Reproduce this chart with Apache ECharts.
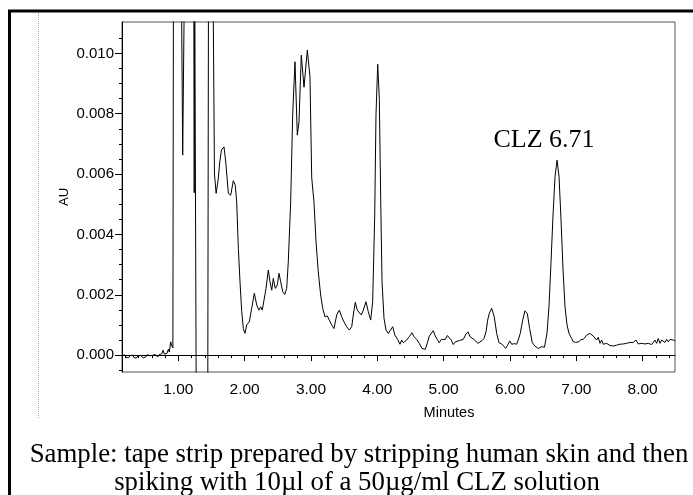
<!DOCTYPE html>
<html>
<head>
<meta charset="utf-8">
<title>CLZ tape strip chromatogram</title>
<script src="https://cdn.jsdelivr.net/npm/echarts@6/dist/echarts.min.js"></script>
<style>
  html, body { margin: 0; padding: 0; background: #fff; }
  #chart { width: 693px; height: 495px; }
</style>
</head>
<body>
<div id="chart"></div>
<script>
// Retention time (minutes) of the clozapine peak and its apex absorbance
const clzTime = 6.71;
const clzHeight = 0.00646;

// Detector trace: [minutes, AU]; values above/below the plot window are clipped
const trace = [
  // baseline before the solvent front
  [0.151, -0.00002], [0.17, -0.00006], [0.19, 0.00001], [0.21, -0.00007], [0.23, -0.00003],
  [0.25, -0.00009], [0.27, -0.00002], [0.29, -0.00006], [0.31, 0.0], [0.33, -0.00008],
  [0.35, -0.00004], [0.37, -0.0001], [0.39, -0.00003], [0.41, -0.00007], [0.43, -0.00001],
  [0.45, -0.00006], [0.47, -0.00009], [0.49, -0.00003], [0.51, -0.00006], [0.53, 0.00001],
  [0.55, -0.00005], [0.57, -0.00002], [0.59, -0.00007], [0.61, -0.00001], [0.63, -0.00004],
  [0.65, 0.00002], [0.67, -0.00003], [0.69, -0.00006], [0.71, 0.00001], [0.73, -0.00002],
  [0.75, 0.00004], [0.77, 0.00016], [0.79, 0.00003], [0.81, -0.00001], [0.83, 0.00006],
  [0.85, 0.0002], [0.865, 0.0001], [0.885, 0.00044], [0.9, 0.00032], [0.918, 0.00024],
  // solvent front (off scale)
  [0.932, 0.02], [0.98, 0.03], [1.02, 0.025], [1.045, 0.015], [1.051, 0.011], [1.066, 0.00663],
  [1.086, 0.011], [1.095, 0.02], [1.16, 0.03], [1.225, 0.02], [1.233, 0.0125], [1.240, 0.00538],
  [1.247, 0.0125], [1.26, 0.0125], [1.27, -0.0015], [1.30, -0.008], [1.40, -0.008],
  [1.444, -0.0015], [1.455, 0.0125], [1.49, 0.02], [1.522, 0.0125], [1.528, 0.011],
  // early eluting matrix peaks
  [1.545, 0.006], [1.57, 0.00536], [1.585, 0.0054], [1.60, 0.0058], [1.625, 0.0064],
  [1.65, 0.0068], [1.689, 0.0069], [1.715, 0.0064], [1.754, 0.00536], [1.79, 0.0053],
  [1.829, 0.00578], [1.859, 0.00563], [1.88, 0.00508], [1.905, 0.00354], [1.93, 0.00243],
  [1.956, 0.00144], [1.98, 0.00088], [2.005, 0.00072], [2.031, 0.001], [2.07, 0.0011],
  [2.106, 0.00155], [2.146, 0.00205], [2.182, 0.00166], [2.216, 0.00149], [2.242, 0.0016],
  [2.266, 0.00149], [2.292, 0.00155], [2.322, 0.00221], [2.357, 0.00282], [2.382, 0.00243],
  [2.408, 0.00215], [2.432, 0.00254], [2.462, 0.00221], [2.492, 0.00232], [2.518, 0.00271],
  [2.543, 0.00243], [2.574, 0.0021], [2.604, 0.00201], [2.634, 0.00221], [2.658, 0.00309],
  [2.694, 0.00508], [2.724, 0.00795], [2.759, 0.00972], [2.794, 0.00729], [2.819, 0.00773],
  [2.854, 0.00994], [2.895, 0.00888], [2.945, 0.01011], [2.985, 0.00922], [3.011, 0.00588],
  [3.045, 0.00508], [3.076, 0.00376], [3.11, 0.00276], [3.146, 0.00199], [3.177, 0.00155],
  [3.211, 0.00127], [3.246, 0.0013], [3.276, 0.00116], [3.312, 0.001], [3.347, 0.00088],
  [3.388, 0.00133], [3.427, 0.00149], [3.463, 0.00127], [3.498, 0.0011], [3.538, 0.00094],
  [3.578, 0.00083], [3.614, 0.00094], [3.638, 0.00133], [3.668, 0.00175], [3.698, 0.00149],
  [3.724, 0.00155], [3.759, 0.00133], [3.789, 0.00149], [3.829, 0.00177], [3.864, 0.00144],
  [3.9, 0.00116], [3.93, 0.00177], [3.961, 0.00464], [3.98, 0.00795], [4.006, 0.00964],
  [4.03, 0.00851], [4.051, 0.0052], [4.071, 0.00243], [4.101, 0.00122], [4.131, 0.00083],
  [4.166, 0.00072], [4.196, 0.00077], [4.232, 0.00094], [4.266, 0.00066], [4.307, 0.00052],
  [4.342, 0.00036], [4.367, 0.0005], [4.392, 0.00041], [4.443, 0.0005], [4.482, 0.00061],
  [4.523, 0.00074], [4.553, 0.00061], [4.594, 0.00052], [4.633, 0.00039], [4.674, 0.00022],
  [4.704, 0.00028], [4.723, 0.00019], [4.753, 0.00039], [4.784, 0.00063], [4.814, 0.00066],
  [4.844, 0.00081], [4.874, 0.00063], [4.904, 0.00052], [4.934, 0.00041], [4.965, 0.00052],
  [4.995, 0.0005], [5.025, 0.00052], [5.055, 0.00065], [5.085, 0.00059], [5.115, 0.0005],
  [5.145, 0.00035], [5.176, 0.00044], [5.206, 0.00041], [5.236, 0.00048], [5.266, 0.00046],
  [5.296, 0.00052], [5.337, 0.0007], [5.367, 0.00077], [5.397, 0.00061], [5.427, 0.00059],
  [5.457, 0.00052], [5.487, 0.00048], [5.518, 0.00039], [5.548, 0.00044], [5.578, 0.00048],
  [5.608, 0.00055], [5.639, 0.00077], [5.664, 0.00116], [5.688, 0.00138], [5.724, 0.00155],
  [5.763, 0.00127], [5.8, 0.00072], [5.834, 0.00041], [5.875, 0.00037], [5.905, 0.0003],
  [5.935, 0.00022], [5.965, 0.00033], [5.996, 0.00047], [6.026, 0.00036], [6.065, 0.00038],
  [6.101, 0.00036], [6.125, 0.0005], [6.155, 0.00072], [6.192, 0.00116], [6.226, 0.00147],
  [6.261, 0.00138], [6.297, 0.00088], [6.336, 0.00041], [6.377, 0.0003], [6.427, 0.00022],
  [6.478, 0.00028], [6.52, 0.00026],
  // clozapine
  [6.558, 0.00072], [6.588, 0.0016], [6.618, 0.00304], [6.648, 0.00458], [6.679, 0.00591],
  [clzTime, clzHeight],
  [6.74, 0.00591], [6.77, 0.00447], [6.80, 0.00282], [6.83, 0.0016], [6.86, 0.001],
  [6.89, 0.00072], [6.93, 0.00055],
  // tail
  [6.95, 0.00045], [6.97, 0.0005], [6.99, 0.00042], [7.01, 0.00047], [7.04, 0.00044],
  [7.07, 0.00052], [7.105, 0.00052], [7.156, 0.00066], [7.206, 0.00072], [7.256, 0.00063],
  [7.307, 0.0005], [7.331, 0.00059], [7.357, 0.00039], [7.382, 0.0005], [7.407, 0.00036],
  [7.457, 0.00039], [7.507, 0.00032], [7.557, 0.0003], [7.608, 0.00033], [7.658, 0.00036],
  [7.708, 0.00037], [7.759, 0.00039], [7.809, 0.00042], [7.859, 0.00042], [7.9, 0.0005],
  [7.934, 0.00037], [7.985, 0.00039], [8.035, 0.00037], [8.085, 0.00039], [8.136, 0.00035],
  [8.186, 0.0005], [8.211, 0.00039], [8.236, 0.00055], [8.261, 0.00039], [8.287, 0.0005],
  [8.337, 0.00042], [8.362, 0.00052], [8.387, 0.00044], [8.412, 0.00052], [8.437, 0.00048],
  [8.462, 0.0005], [8.49, 0.00047]
];

// Axis windows
const xMin = 0.151, xMax = 8.488;
const yMin = -0.00056, yMax = 0.01104;

// Tick positions
const xMajor = [1, 2, 3, 4, 5, 6, 7, 8];
const xMinor = [0.2, 0.4, 0.6, 0.8, 1.2, 1.4, 1.6, 1.8, 2.2, 2.4, 2.6, 2.8, 3.2, 3.4, 3.6, 3.8,
                4.2, 4.4, 4.6, 4.8, 5.2, 5.4, 5.6, 5.8, 6.2, 6.4, 6.6, 6.8, 7.2, 7.4, 7.6, 7.8,
                8.2, 8.4];
const yMajor = [0, 0.002, 0.004, 0.006, 0.008, 0.010];
const yMinor = [-0.0005, 0.0005, 0.001, 0.0015, 0.0025, 0.003, 0.0035, 0.0045, 0.005, 0.0055,
                0.0065, 0.007, 0.0075, 0.0085, 0.009, 0.0095, 0.0105];

const captionLines = [
  'Sample: tape strip prepared by stripping human skin and then',
  'spiking with 10\u00b5l of a 50\u00b5g/ml CLZ solution'
];

const SANS = '"Liberation Sans", Arial, sans-serif';
const SERIF = '"Liberation Serif", "Times New Roman", serif';

const chart = echarts.init(document.getElementById('chart'), null, { renderer: 'canvas' });

const minorAxis = (pos, ticks, len) => ({
  type: 'value', position: pos, min: pos === 'bottom' ? xMin : yMin, max: pos === 'bottom' ? xMax : yMax,
  axisLine: { show: false },
  axisLabel: { show: false },
  splitLine: { show: false },
  axisTick: { show: true, customValues: ticks, length: len, lineStyle: { color: '#000', width: 1 } }
});

chart.setOption({
  animation: false,
  backgroundColor: '#fff',
  grid: {
    left: 122, right: 18, top: 22, bottom: 123,
    show: true, borderColor: '#555', borderWidth: 1, backgroundColor: 'transparent'
  },
  xAxis: [
    {
      type: 'value', position: 'bottom', min: xMin, max: xMax,
      axisLine: { lineStyle: { color: '#000', width: 1 } },
      axisTick: { customValues: xMajor, length: 6, lineStyle: { color: '#000', width: 1 } },
      axisLabel: {
        customValues: xMajor, formatter: v => v.toFixed(2), margin: 10,
        fontFamily: SANS, fontSize: 15.5, color: '#000'
      },
      splitLine: { show: false },
      name: 'Minutes', nameLocation: 'middle', nameGap: 33, nameMoveOverlap: false,
      nameTextStyle: { fontFamily: SANS, fontSize: 14.5, color: '#000', padding: [0, 0, 0, 101] }
    },
    minorAxis('bottom', xMinor, 3)
  ],
  yAxis: [
    {
      type: 'value', position: 'left', min: yMin, max: yMax,
      axisLine: { show: true, lineStyle: { color: '#000', width: 1 } },
      axisTick: { show: true, customValues: yMajor, length: 7, lineStyle: { color: '#000', width: 1 } },
      axisLabel: {
        customValues: yMajor, formatter: v => v.toFixed(3), margin: 8,
        fontFamily: SANS, fontSize: 15, color: '#000'
      },
      splitLine: { show: false },
      name: 'AU', nameLocation: 'middle', nameGap: 51, nameMoveOverlap: false,
      nameTextStyle: { fontFamily: SANS, fontSize: 13, color: '#000' }
    },
    minorAxis('left', yMinor, 3)
  ],
  series: [{
    type: 'line',
    xAxisIndex: 0, yAxisIndex: 0,
    data: trace,
    showSymbol: false,
    clip: true,
    lineStyle: { color: '#000', width: 1 },
    markPoint: {
      symbol: 'circle', symbolSize: 0,
      itemStyle: { color: 'transparent' },
      label: {
        show: true, position: 'top', distance: 0, offset: [-13, -7],
        formatter: 'CLZ ' + clzTime.toFixed(2),
        fontFamily: SERIF, fontSize: 26, color: '#000'
      },
      data: [{ name: 'CLZ', coord: [clzTime, clzHeight] }]
    }
  }],
  graphic: [
    {
      type: 'rect', silent: true, z: 10,
      shape: { x: 9.5, y: 11, width: 720, height: 520 },
      style: { fill: 'none', stroke: '#000', lineWidth: 3 }
    },
    {
      type: 'line', silent: true,
      shape: { x1: 38.5, y1: 13, x2: 38.5, y2: 418 },
      style: { stroke: '#ff7f7f', lineWidth: 1, lineDash: [1, 1] }
    },
    {
      type: 'text', silent: true, x: 359, y: 455,
      style: { text: captionLines[0], font: '26.8px ' + SERIF, fill: '#000', align: 'center', verticalAlign: 'middle' }
    },
    {
      type: 'text', silent: true, x: 357, y: 483,
      style: { text: captionLines[1], font: '26.8px ' + SERIF, fill: '#000', align: 'center', verticalAlign: 'middle' }
    }
  ]
});
</script>
</body>
</html>
